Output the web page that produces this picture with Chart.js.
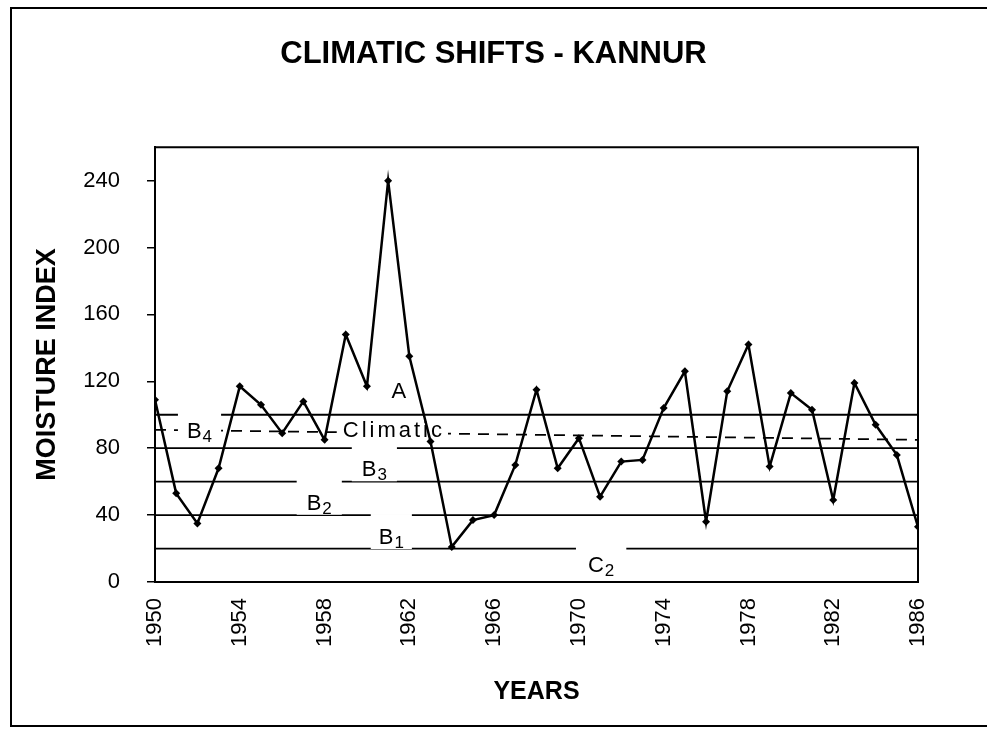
<!DOCTYPE html>
<html>
<head>
<meta charset="utf-8">
<title>Climatic Shifts - Kannur</title>
<script src="https://cdn.jsdelivr.net/npm/chart.js@4.4.1/dist/chart.umd.min.js"></script>
<style>
  body { margin: 0; background: #fff; }
  canvas { display: block; }
</style>
</head>
<body>
<canvas id="chart" width="987" height="737"></canvas>
<script>
// Data
const years = [1950, 1951, 1952, 1953, 1954, 1955, 1956, 1957, 1958, 1959,
               1960, 1961, 1962, 1963, 1964, 1965, 1966, 1967, 1968, 1969,
               1970, 1971, 1972, 1973, 1974, 1975, 1976, 1977, 1978, 1979,
               1980, 1981, 1982, 1983, 1984, 1985, 1986];
const moistureIndex = [109, 53, 35, 68, 117, 106, 89, 108, 85, 148,
                       117, 240, 135, 84, 21, 37, 40, 70, 115, 68,
                       86, 51, 72, 73, 104, 126, 36, 114, 142, 69,
                       113, 103, 49, 119, 94, 76, 33];
const zoneBounds = [100, 80, 60, 40, 20];
const climaticYears = [1950, 1986];
const climaticLine = [91, 85];
const yTicks = [0, 40, 80, 120, 160, 200, 240];

// zone labels: text, subscript, position in data units
const zoneLabels = [
  { text: 'A', sub: '', x: 1961.5, y: 115, box: false },
  { text: 'B', sub: '4', x: 1952.1, y: 91, box: true, padTop: 10, padX: 9 },
  { text: 'Climatic', sub: '', x: 1961.2, y: 91.5, box: true, padTop: 3, padX: 6, spacing: 3 },
  { text: 'B', sub: '3', x: 1960.35, y: 68, box: true, padTop: 14, padX: 10 },
  { text: 'B', sub: '2', x: 1957.75, y: 48, box: true, padTop: 14, padX: 10 },
  { text: 'B', sub: '1', x: 1961.15, y: 27.5, box: true, padTop: 14, padX: 8 },
  { text: 'C', sub: '2', x: 1971.05, y: 11, box: true, padTop: 10, padX: 12 }
];

const FONT = "'Liberation Sans', Arial, sans-serif";
Chart.defaults.font.family = FONT;
Chart.defaults.color = '#000';

function drawZoneLabel(ctx, lab, xs, ys) {
  const cx = xs.getPixelForValue(lab.x);
  const cy = ys.getPixelForValue(lab.y);
  const sp = lab.spacing || 0;
  ctx.save();
  ctx.font = '22px ' + FONT;
  ctx.letterSpacing = sp + 'px';
  const w1 = ctx.measureText(lab.text).width - sp;
  ctx.letterSpacing = '0px';
  ctx.font = '17px ' + FONT;
  const w2 = lab.sub ? ctx.measureText(lab.sub).width + 1 : 0;
  const w = w1 + w2;
  const x0 = cx - w / 2;
  if (lab.box) {
    ctx.fillStyle = '#fff';
    ctx.fillRect(x0 - lab.padX, cy - 8 - lab.padTop, w + lab.padX * 2, 16 + lab.padTop + 5);
  }
  ctx.fillStyle = '#000';
  ctx.textAlign = 'left';
  ctx.textBaseline = 'alphabetic';
  ctx.font = '22px ' + FONT;
  ctx.letterSpacing = sp + 'px';
  ctx.fillText(lab.text, x0, cy + 8);
  ctx.letterSpacing = '0px';
  if (lab.sub) {
    ctx.font = '17px ' + FONT;
    ctx.fillText(lab.sub, x0 + w1 + 1, cy + 12);
  }
  ctx.restore();
}

const framePlugin = {
  id: 'framePlugin',
  afterDatasetDraw(chart, args) {
    // labels go over the reference lines but under the main series
    if (args.index !== 1) return;
    const xs = chart.scales.x, ys = chart.scales.y;
    zoneLabels.forEach(lab => drawZoneLabel(chart.ctx, lab, xs, ys));
  },
  afterDraw(chart) {
    const ctx = chart.ctx;
    const a = chart.chartArea;
    ctx.save();
    ctx.strokeStyle = '#000';
    ctx.lineWidth = 2;
    ctx.beginPath();
    ctx.moveTo(a.left, a.top);
    ctx.lineTo(a.right, a.top);
    ctx.lineTo(a.right, a.bottom);
    ctx.stroke();
    // outer border of the picture
    ctx.beginPath();
    ctx.moveTo(987, 8);
    ctx.lineTo(11, 8);
    ctx.lineTo(11, 726);
    ctx.lineTo(987, 726);
    ctx.stroke();
    ctx.restore();
  }
};

const mainSeries = years.map((yr, i) => ({ x: yr, y: moistureIndex[i] }));

const datasets = [
  {
    label: 'Moisture index',
    data: mainSeries,
    borderColor: '#000',
    borderWidth: 2.5,
    pointStyle: 'rectRot',
    pointRadius: 4,
    pointBackgroundColor: '#000',
    pointBorderWidth: 0,
    tension: 0
  },
  {
    label: 'Climatic',
    data: climaticYears.map((yr, i) => ({ x: yr, y: climaticLine[i] })),
    borderColor: '#000',
    borderWidth: 1.8,
    borderDash: [11, 8],
    pointRadius: 0
  }
];
zoneBounds.forEach(b => {
  datasets.push({
    label: 'bound ' + b,
    data: [{ x: years[0], y: b }, { x: years[years.length - 1], y: b }],
    borderColor: '#000',
    borderWidth: 1.8,
    pointRadius: 0
  });
});

new Chart(document.getElementById('chart'), {
  type: 'line',
  data: { datasets },
  options: {
    responsive: false,
    animation: false,
    devicePixelRatio: 1,
    layout: { padding: 0 },
    plugins: {
      legend: { display: false },
      tooltip: { enabled: false },
      title: {
        display: true,
        text: 'CLIMATIC SHIFTS - KANNUR',
        font: { size: 31, weight: 'bold' },
        color: '#000',
        padding: { top: 36, bottom: 74 }
      }
    },
    scales: {
      x: {
        type: 'linear',
        min: years[0],
        max: years[years.length - 1],
        afterFit: s => { s.height = 155; },
        ticks: {
          stepSize: 4,
          minRotation: 90,
          maxRotation: 90,
          padding: 16,
          font: { size: 22 },
          color: '#000',
          callback: v => String(v)
        },
        grid: { display: false, drawTicks: false },
        border: { display: true, color: '#000', width: 2 },
        title: {
          display: true,
          text: 'YEARS',
          font: { size: 25, weight: 'bold' },
          color: '#000',
          padding: { top: 0, bottom: 30 }
        }
      },
      y: {
        min: 0,
        max: 260,
        afterFit: s => { s.width = 155; },
        afterBuildTicks: s => { s.ticks = yTicks.map(v => ({ value: v })); },
        ticks: {
          padding: 27,
          font: { size: 22 },
          color: '#000'
        },
        grid: { drawOnChartArea: false, drawTicks: true, tickLength: 8, color: '#000', lineWidth: 1.5 },
        border: { display: true, color: '#000', width: 2 },
        title: {
          display: true,
          text: 'MOISTURE INDEX',
          font: { size: 27, weight: 'bold' },
          color: '#000',
          padding: { top: 31, bottom: 0 }
        }
      },
      yRight: {
        position: 'right',
        min: 0,
        max: 260,
        afterFit: s => { s.width = 69; },
        ticks: { display: false },
        grid: { display: false },
        border: { display: false }
      }
    }
  },
  plugins: [framePlugin]
});
</script>
</body>
</html>
